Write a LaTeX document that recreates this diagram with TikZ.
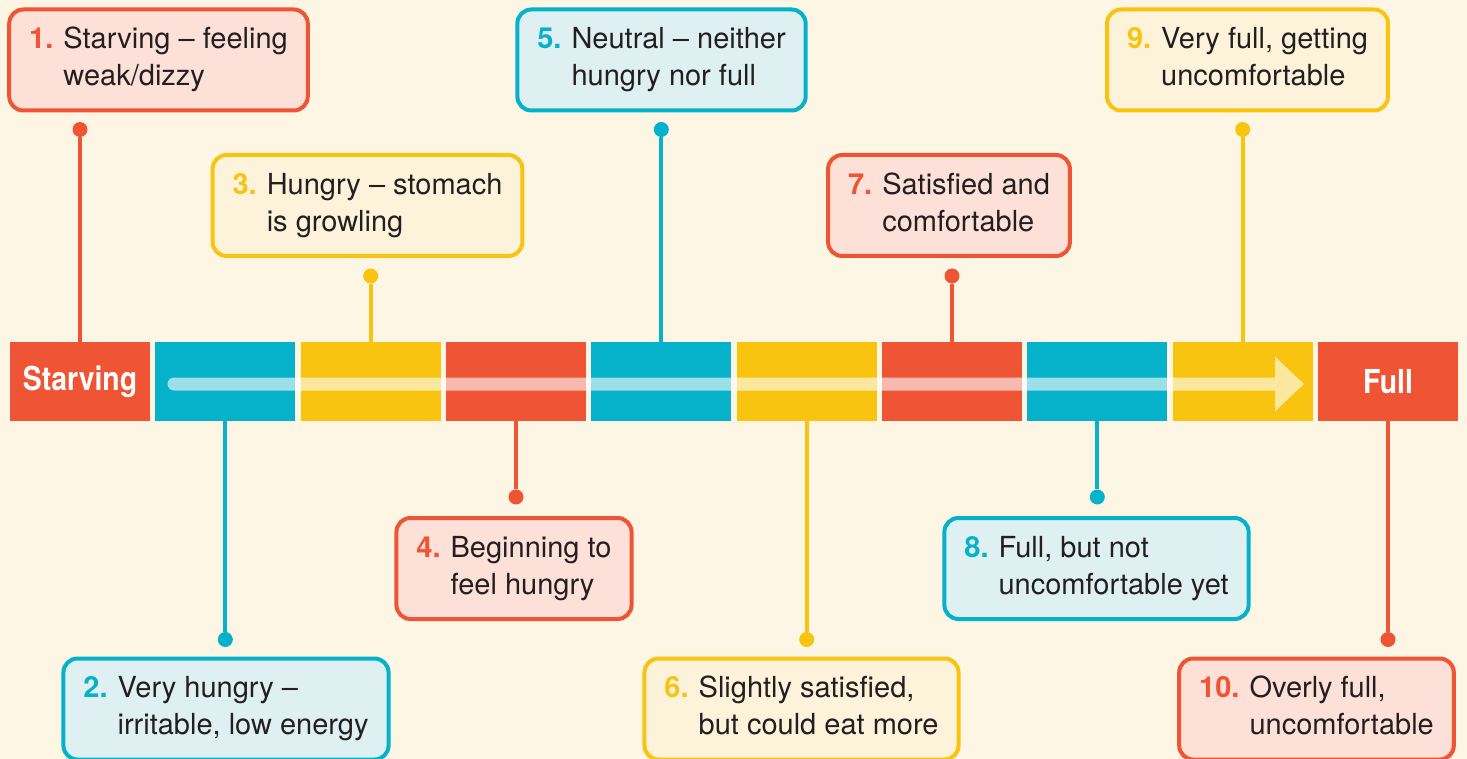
\documentclass[tikz,border=0pt]{standalone}
\usepackage{fontspec}
\setmainfont{TeX Gyre Heros}
\usepackage{graphicx}
\usetikzlibrary{arrows.meta,calc}
\definecolor{hred}{HTML}{EF5435}
\definecolor{hcyan}{HTML}{05B2CA}
\definecolor{hyel}{HTML}{F8C40F}
\definecolor{hredf}{HTML}{FDE1D8}
\definecolor{hcyanf}{HTML}{DFF0F3}
\definecolor{hyelf}{HTML}{FDF2DA}
\definecolor{bgc}{HTML}{FDF6E5}
\definecolor{ink}{HTML}{231F20}
\newcommand{\lvl}[3]{\textbf{\color{#1}#2}\hspace{5pt}\begin{tabular}[t]{@{}l@{}}#3\end{tabular}}
\newcommand{\barlbl}[1]{\scalebox{0.86}[1]{\bfseries #1}}

\begin{document}
\begin{tikzpicture}[x=0.5pt,y=-0.5pt,
    seg/.style={fill=#1, minimum width=70pt, minimum height=39.5pt, inner sep=0pt,
      text=white, font=\fontsize{16.5}{16.5}\selectfont},
    lvlbox/.style={draw=#1, fill=#1f, line width=2pt, rounded corners=7pt,
      minimum height=50.5pt, inner xsep=10pt, text=ink,
      font=\fontsize{14.5}{18.5}\selectfont},
    dotnode/.style={circle, fill=#1, inner sep=0pt, minimum size=7.5pt},
    link/.style={draw=#1, line width=2pt},
    flow/.style={white, line width=6.5pt, line cap=round,
      -{Triangle[length=14.5pt,width=26.5pt]}}]
    \useasboundingbox (0,0) rectangle (1467,759);
    \fill[bgc] (0,0) rectangle (1467,759);
    % Scale Segments
    \node[seg=hred]  (s1)  at (80,381.5)   {\barlbl{Starving}};
    \node[seg=hcyan] (s2)  at (225.3,381.5) {};
    \node[seg=hyel]  (s3)  at (370.7,381.5) {};
    \node[seg=hred]  (s4)  at (516,381.5)  {};
    \node[seg=hcyan] (s5)  at (661.3,381.5) {};
    \node[seg=hyel]  (s6)  at (806.7,381.5) {};
    \node[seg=hred]  (s7)  at (952,381.5)  {};
    \node[seg=hcyan] (s8)  at (1097.3,381.5) {};
    \node[seg=hyel]  (s9)  at (1242.7,381.5) {};
    \node[seg=hred]  (s10) at (1388,381.5) {\barlbl{Full}};
    % Direction Arrow
    \coordinate (ast) at (174,384);
    \coordinate (aen) at (1304,384);
    \begin{scope}[transparency group, opacity=0.6]
      \draw[flow] (ast) -- (aen);
    \end{scope}
    % Level Boxes Above the Scale
    \node[lvlbox=hred]  (b1) at (158.5,60)   {\lvl{hred}{1.}{Starving – feeling\\weak/dizzy}};
    \node[lvlbox=hyel]  (b3) at (367.5,205.5) {\lvl{hyel}{3.}{Hungry – stomach\\is growling}};
    \node[lvlbox=hcyan] (b5) at (661.5,60)   {\lvl{hcyan}{5.}{Neutral – neither\\hungry nor full}};
    \node[lvlbox=hred]  (b7) at (949,205.5)  {\lvl{hred}{7.}{Satisfied and\\comfortable}};
    \node[lvlbox=hyel]  (b9) at (1247.5,60)  {\lvl{hyel}{9.}{Very full, getting\\uncomfortable}};
    % Level Boxes Below the Scale
    \node[lvlbox=hcyan] (b2)  at (226,709)    {\lvl{hcyan}{2.}{Very hungry –\\irritable, low energy}};
    \node[lvlbox=hred]  (b4)  at (514,568.5)  {\lvl{hred}{4.}{Beginning to\\feel hungry}};
    \node[lvlbox=hyel]  (b6)  at (801.5,709)  {\lvl{hyel}{6.}{Slightly satisfied,\\but could eat more}};
    \node[lvlbox=hcyan] (b8)  at (1096.5,568.5) {\lvl{hcyan}{8.}{Full, but not\\uncomfortable yet}};
    \node[lvlbox=hred]  (b10) at (1316.5,709)  {\lvl{hred}{10.}{Overly full,\\uncomfortable}};
    % Pins
    \node[dotnode=hred]  (p1)  at ($(s1 |- b1.south)+(0,17)$) {};
    \node[dotnode=hyel]  (p3)  at ($(s3 |- b3.south)+(0,18)$) {};
    \node[dotnode=hcyan] (p5)  at ($(s5 |- b5.south)+(0,17)$) {};
    \node[dotnode=hred]  (p7)  at ($(s7 |- b7.south)+(0,18)$) {};
    \node[dotnode=hyel]  (p9)  at ($(s9 |- b9.south)+(0,17)$) {};
    \node[dotnode=hcyan] (p2)  at ($(s2 |- b2.north)+(0,-17)$) {};
    \node[dotnode=hred]  (p4)  at ($(s4 |- b4.north)+(0,-19)$) {};
    \node[dotnode=hyel]  (p6)  at ($(s6 |- b6.north)+(0,-17)$) {};
    \node[dotnode=hcyan] (p8)  at ($(s8 |- b8.north)+(0,-19)$) {};
    \node[dotnode=hred]  (p10) at ($(s10 |- b10.north)+(0,-17)$) {};
    % Pin Lines
    \draw[link=hred]  (p1) -- (s1);
    \draw[link=hyel]  (p3) -- (s3);
    \draw[link=hcyan] (p5) -- (s5);
    \draw[link=hred]  (p7) -- (s7);
    \draw[link=hyel]  (p9) -- (s9);
    \draw[link=hcyan] (p2) -- (s2);
    \draw[link=hred]  (p4) -- (s4);
    \draw[link=hyel]  (p6) -- (s6);
    \draw[link=hcyan] (p8) -- (s8);
    \draw[link=hred]  (p10) -- (s10);
\end{tikzpicture}
\end{document}
